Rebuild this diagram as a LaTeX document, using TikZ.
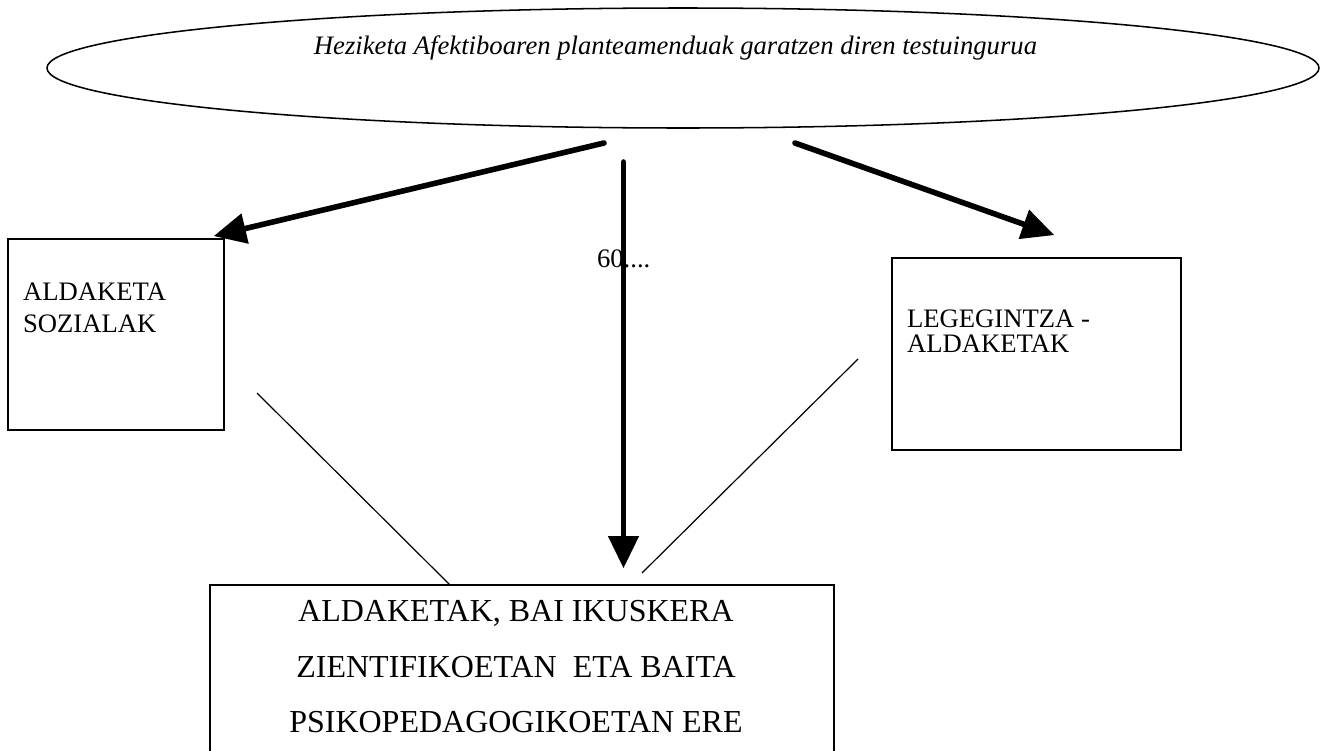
\documentclass[tikz,border=0pt]{standalone}
\usepackage{fontspec}
\setmainfont{Liberation Serif}
\usetikzlibrary{arrows.meta,shapes.geometric,fit}
\begin{document}
\begin{tikzpicture}[x=0.75pt,y=-0.75pt,
  frame/.style={draw, line width=1.15pt, inner sep=0pt, outer sep=0pt},
  heavyarrow/.style={line width=4.2pt, line cap=round,
    -{Triangle[length=24pt,width=23.5pt,line width=0pt]}},
  thinlink/.style={line width=0.9pt},
  lbl/.style={inner sep=0pt, outer sep=0pt, font=\fontsize{20}{24}\selectfont},
  biglbl/.style={inner sep=0pt, outer sep=0pt, font=\fontsize{24}{28}\selectfont}]
\useasboundingbox (0,0) rectangle (1328,750);
\clip (0,0) rectangle (1328,750);

% context ellipse
\node[frame, ellipse, minimum width=954pt, minimum height=90pt] (ctx) at (683,68) {};
\node[lbl, anchor=base, font=\fontsize{20}{24}\selectfont\itshape] (ctxtxt) at (675.5,54)
  {Heziketa Afektiboaren planteamenduak garatzen diren testuingurua};

% boxes
\node[frame, fit={(8,239)(224,430)}] (soc) {};
\node[lbl, anchor=base west] (soc1) at (23,300) {ALDAKETA};
\node[lbl, anchor=base west] (soc2) at (23,332) {SOZIALAK};

\node[frame, fit={(892,258)(1181,450)}] (leg) {};
\node[lbl, anchor=base west] (leg1) at (907,327) {LEGEGINTZA -};
\node[lbl, anchor=base west] (leg2) at (907,352) {ALDAKETAK};

\node[frame, fit={(210,585)(834,800)}] (sci) {};
\node[biglbl, anchor=base] (sci1) at (516,621) {ALDAKETAK, BAI IKUSKERA};
\node[biglbl, anchor=base] (sci2) at (516,677) {ZIENTIFIKOETAN~ ETA BAITA};
\node[biglbl, anchor=base] (sci3) at (516,732) {PSIKOPEDAGOGIKOETAN ERE};

% period label on the middle arrow
\node[lbl, anchor=base west] (era) at (597,267) {60....};

% arrow end points
\coordinate (srcL) at (604,143);
\coordinate (tipL) at (214,236);
\coordinate (srcM) at (623.5,162);
\coordinate (tipM) at (623.5,568);
\coordinate (srcR) at (795,143);
\coordinate (tipR) at (1054,235);

\draw[heavyarrow] (srcL) -- (tipL);
\draw[heavyarrow] (srcM) -- (tipM);
\draw[heavyarrow] (srcR) -- (tipR);

% thin links into the bottom box
\coordinate (lnkL) at (257,393);
\coordinate (lnkLb) at (450,585);
\coordinate (lnkR) at (858,359);
\coordinate (lnkRb) at (642,573);
\draw[thinlink] (lnkL) -- (lnkLb);
\draw[thinlink] (lnkR) -- (lnkRb);
\end{tikzpicture}
\end{document}
